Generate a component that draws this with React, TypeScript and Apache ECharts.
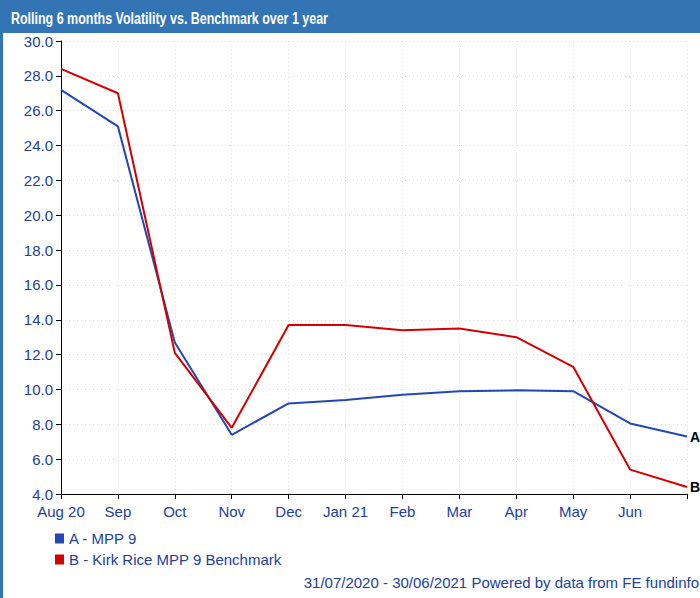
import React, { useEffect, useRef } from "react";
import * as echarts from "echarts";

const categories = ["Aug 20", "Sep", "Oct", "Nov", "Dec", "Jan 21", "Feb", "Mar", "Apr", "May", "Jun", ""];
const seriesA = [27.2, 25.1, 12.7, 7.4, 9.2, 9.4, 9.7, 9.9, 9.95, 9.9, 8.05, 7.3];
const seriesB = [28.4, 27.0, 12.1, 7.8, 13.7, 13.7, 13.4, 13.5, 13.0, 11.3, 5.4, 4.4];
const nameA = "A - MPP 9";
const nameB = "B - Kirk Rice MPP 9 Benchmark";
const title = "Rolling 6 months Volatility vs. Benchmark over 1 year";
const footer = "31/07/2020 - 30/06/2021 Powered by data from FE fundinfo";

const textBlue = "#23409a";
const font = "'Liberation Sans', Arial, sans-serif";

export default function App() {
  const ref = useRef<HTMLDivElement>(null);
  useEffect(() => {
    document.body.style.margin = "0";
    const chart = echarts.init(ref.current!, undefined, { renderer: "svg" });
    const endLabel = (t: string) => ({
      show: true,
      formatter: t,
      color: "#000",
      fontWeight: "bold",
      fontSize: 14,
      fontFamily: font,
      distance: 3,
    });
    chart.setOption({
      animation: false,
      backgroundColor: "#fff",
      textStyle: { fontFamily: font },
      grid: { left: 61, right: 13, top: 41, bottom: 104 },
      legend: {
        orient: "vertical",
        left: 50,
        top: 526,
        icon: "rect",
        itemWidth: 9,
        itemHeight: 10,
        itemGap: 6,
        textStyle: { color: textBlue, fontSize: 15, fontFamily: font },
        data: [nameA, nameB],
      },
      xAxis: {
        type: "category",
        data: categories,
        boundaryGap: false,
        axisLine: { lineStyle: { color: "#000", width: 1 } },
        axisTick: { show: true, length: 5, lineStyle: { color: "#000" }, alignWithLabel: true },
        axisLabel: { color: textBlue, fontSize: 15, margin: 10, fontFamily: font, interval: 0 },
        splitLine: { show: true, lineStyle: { color: "#ddd", type: [1, 3] } },
      },
      yAxis: {
        type: "value",
        min: 4,
        max: 30,
        interval: 2,
        axisLine: { show: true, lineStyle: { color: "#000", width: 1 } },
        axisTick: { show: true, length: 5, lineStyle: { color: "#000" } },
        axisLabel: {
          color: textBlue,
          fontSize: 15,
          margin: 8,
          fontFamily: font,
          formatter: (v: number) => v.toFixed(1),
        },
        splitLine: { show: true, lineStyle: { color: "#ddd", type: [1, 3] } },
      },
      series: [
        {
          name: nameA,
          type: "line",
          data: seriesA,
          symbol: "none",
          lineStyle: { color: "#2347b5", width: 2 },
          itemStyle: { color: "#2347b5" },
          endLabel: endLabel("A"),
        },
        {
          name: nameB,
          type: "line",
          data: seriesB,
          symbol: "none",
          lineStyle: { color: "#d40000", width: 2 },
          itemStyle: { color: "#d40000" },
          endLabel: endLabel("B"),
        },
      ],
      graphic: [
        { type: "rect", shape: { x: 0, y: 0, width: 700, height: 33 }, style: { fill: "#3374b4" }, z: 10 },
        { type: "rect", shape: { x: 0, y: 0, width: 3, height: 598 }, style: { fill: "#3374b4" }, z: 10 },
        {
          type: "text",
          x: 11,
          y: 18,
          scaleX: 0.78,
          style: {
            text: title,
            fill: "#fff",
            font: "bold 16px 'Liberation Sans', Arial, sans-serif",
            verticalAlign: "middle",
          },
          z: 11,
        },
        {
          type: "text",
          right: 1,
          top: 575,
          style: { text: footer, fill: textBlue, font: "15px 'Liberation Sans', Arial, sans-serif" },
          z: 11,
        },
      ],
    });
    return () => chart.dispose();
  }, []);
  return <div ref={ref} style={{ width: 700, height: 598 }} />;
}
